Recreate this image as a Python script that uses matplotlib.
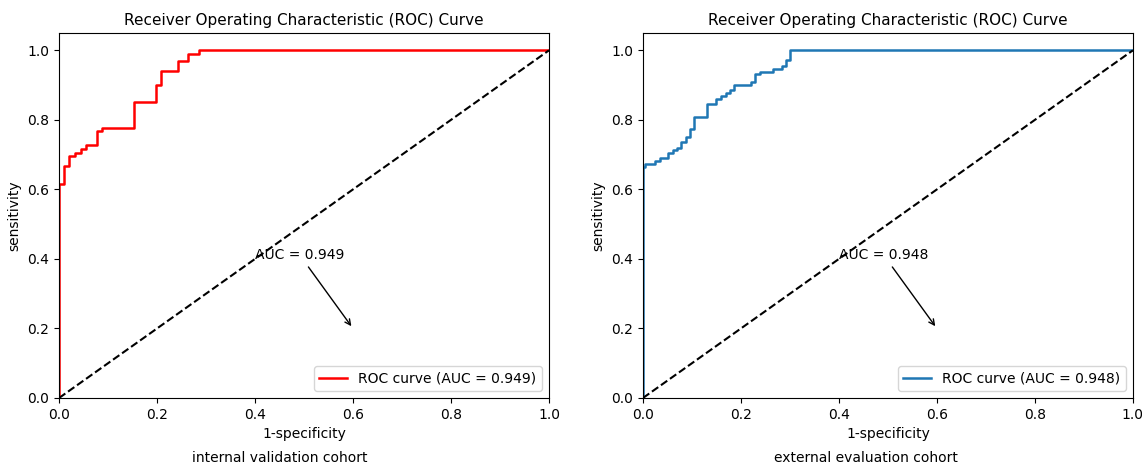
import numpy as np
import matplotlib.pyplot as plt

# internal validation cohort (step corners)
fpr_int = [0.0, 0.0, 0.010, 0.020, 0.033, 0.044, 0.055, 0.077, 0.087, 0.153,
           0.198, 0.209, 0.242, 0.264, 0.286, 1.0]
tpr_int = [0.0, 0.615, 0.667, 0.696, 0.706, 0.717, 0.728, 0.768, 0.778, 0.850,
           0.899, 0.940, 0.969, 0.989, 1.0, 1.0]
auc_int = 0.949

# external evaluation cohort
fpr_ext = [0.0, 0.0, 0.005, 0.024, 0.035, 0.052, 0.061, 0.070, 0.078, 0.087,
           0.097, 0.104, 0.131, 0.150, 0.159, 0.169, 0.178, 0.186, 0.221, 0.229,
           0.238, 0.265, 0.284, 0.292, 0.301, 1.0]
tpr_ext = [0.0, 0.665, 0.674, 0.682, 0.691, 0.705, 0.713, 0.720, 0.737, 0.752,
           0.775, 0.807, 0.847, 0.861, 0.870, 0.878, 0.885, 0.900, 0.908, 0.931,
           0.939, 0.946, 0.956, 0.971, 1.0, 1.0]
auc_ext = 0.948

panels = [
    (fpr_int, tpr_int, auc_int, 'red', 'internal validation cohort'),
    (fpr_ext, tpr_ext, auc_ext, '#1f77b4', 'external evaluation cohort'),
]

fig = plt.figure(figsize=(11.42, 4.71), dpi=100)
lefts = [0.0517, 0.563]
caption_x = [0.245, 0.758]
for (fpr, tpr, auc, col, cap), left, cx in zip(panels, lefts, caption_x):
    ax = fig.add_axes([left, 0.155, 0.429, 0.775])
    ax.plot(fpr, tpr, color=col, lw=1.8, drawstyle='steps-post',
            label='ROC curve (AUC = %.3f)' % auc)
    ax.plot([0, 1], [0, 1], 'k--', lw=1.5)
    ax.set_xlim(0, 1)
    ax.set_ylim(0, 1.05)
    ax.set_xlabel('1-specificity')
    ax.set_ylabel('sensitivity')
    ax.set_title('Receiver Operating Characteristic (ROC) Curve', fontsize=11)
    ax.annotate('AUC = %.3f' % auc, xy=(0.6, 0.2), xytext=(0.4, 0.4),
                arrowprops=dict(arrowstyle='->', color='black'))
    ax.legend(loc='lower right')
    fig.text(cx, 0.012, cap, ha='center', va='bottom', fontsize=10)

fig.savefig('out.png')
plt.close()
